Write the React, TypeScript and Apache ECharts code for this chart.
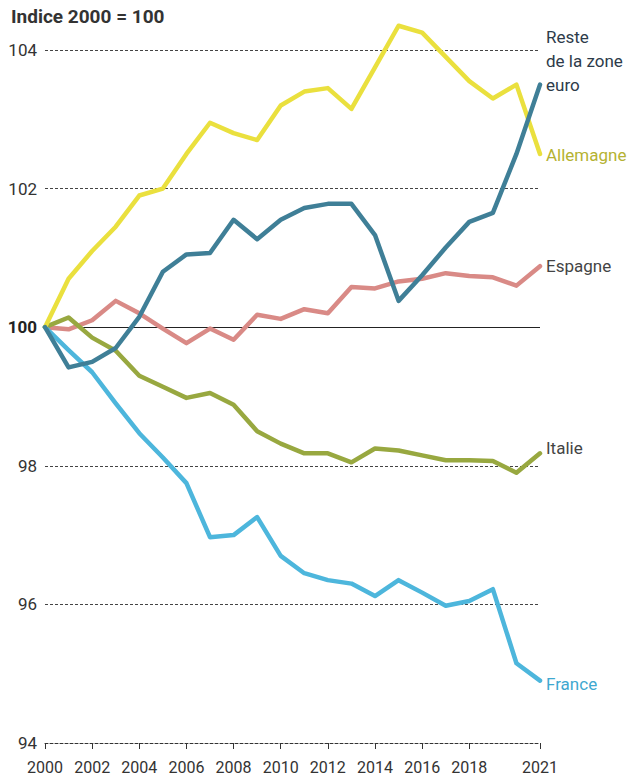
import React, { useEffect, useRef } from 'react';
import * as echarts from 'echarts';

const years = ['2000','2001','2002','2003','2004','2005','2006','2007','2008','2009','2010','2011','2012','2013','2014','2015','2016','2017','2018','2019','2020','2021'];
const labeledYearIdx = [0, 2, 4, 6, 8, 10, 12, 14, 16, 18, 21];

const allemagne = [100, 100.7, 101.1, 101.45, 101.9, 102.0, 102.5, 102.95, 102.8, 102.7, 103.2, 103.4, 103.45, 103.15, 103.75, 104.35, 104.25, 103.9, 103.55, 103.3, 103.5, 102.5];
const reste = [100, 99.42, 99.5, 99.7, 100.15, 100.8, 101.05, 101.07, 101.55, 101.27, 101.55, 101.72, 101.78, 101.78, 101.33, 100.38, 100.75, 101.15, 101.52, 101.65, 102.5, 103.5];
const espagne = [100, 99.97, 100.1, 100.38, 100.2, 99.98, 99.77, 99.98, 99.82, 100.18, 100.12, 100.26, 100.2, 100.58, 100.56, 100.66, 100.7, 100.78, 100.74, 100.72, 100.6, 100.88];
const italie = [100, 100.14, 99.85, 99.66, 99.3, 99.14, 98.98, 99.05, 98.88, 98.5, 98.32, 98.18, 98.18, 98.05, 98.25, 98.22, 98.15, 98.08, 98.08, 98.07, 97.9, 98.18];
const france = [100, 99.67, 99.35, 98.9, 98.47, 98.12, 97.75, 96.97, 97.0, 97.26, 96.7, 96.45, 96.35, 96.3, 96.12, 96.35, 96.17, 95.98, 96.05, 96.22, 95.15, 94.9];

const FONT = "Roboto, 'Noto Sans', sans-serif";

export default function App() {
  const ref = useRef<HTMLDivElement>(null);
  useEffect(() => {
    document.body.style.margin = '0';
    const chart = echarts.init(ref.current!, null, { renderer: 'svg' });
    const mk = (name: string, data: number[], color: string, labelColor: string, label: any, z = 2) => ({
      type: 'line',
      name,
      data,
      z,
      symbol: 'none',
      clip: false,
      lineStyle: { color, width: 4.5, join: 'round', cap: 'round' },
      itemStyle: { color },
      endLabel: {
        show: true,
        formatter: name,
        color: labelColor,
        fontFamily: FONT,
        fontSize: 17,
        distance: 6,
        ...label,
      },
    });
    chart.setOption({
      animation: false,
      backgroundColor: '#ffffff',
      textStyle: { fontFamily: FONT },
      grid: { left: 45, right: 95, top: 50, bottom: 37 },
      graphic: [
        {
          type: 'text',
          left: 11,
          top: 7,
          style: { text: 'Indice 2000 = 100', fill: '#333', font: `bold 19px ${FONT}` },
        },
      ],
      xAxis: {
        type: 'category',
        data: years,
        boundaryGap: false,
        axisLine: { lineStyle: { color: '#333', type: [3, 2], width: 1 } },
        axisTick: {
          show: true,
          length: 6,
          interval: (i: number) => labeledYearIdx.includes(i),
          lineStyle: { color: '#333', width: 1 },
        },
        axisLabel: {
          interval: (i: number) => labeledYearIdx.includes(i),
          color: '#333',
          fontFamily: FONT,
          fontSize: 16,
          margin: 16,
        },
        splitLine: { show: false },
      },
      yAxis: {
        type: 'value',
        min: 94,
        max: 104,
        interval: 2,
        axisLine: { show: false },
        axisTick: { show: false },
        axisLabel: {
          margin: 8,
          formatter: (v: number) => (v === 100 ? `{b|${v}}` : `{n|${v}}`),
          rich: {
            n: { color: '#333', fontFamily: FONT, fontSize: 17 },
            b: { color: '#222', fontFamily: FONT, fontSize: 17, fontWeight: 'bold' },
          },
        },
        splitLine: { show: true, lineStyle: { color: '#444', type: [3, 2], width: 1 } },
      },
      series: [
        {
          ...mk('Espagne', espagne, '#d98a86', '#444', {}),
          markLine: {
            silent: true,
            symbol: 'none',
            label: { show: false },
            lineStyle: { color: '#222', type: 'solid', width: 1.2 },
            data: [{ yAxis: 100 }],
            z: 1,
          },
        },
        mk('Italie', italie, '#98a840', '#444', { offset: [0, -5] }),
        mk('France', france, '#4db6dc', '#3fa8d0', { offset: [0, 3] }),
        mk('Allemagne', allemagne, '#eae03e', '#b5b232', { offset: [0, 1] }),
        mk('Reste de la zone euro', reste, '#3f7f97', '#2d3b4a', {
          formatter: 'Reste\nde la zone\neuro',
          verticalAlign: 'bottom',
          lineHeight: 24,
          offset: [0, 12],
        }, 3),
      ],
    });
    return () => chart.dispose();
  }, []);
  return <div ref={ref} style={{ width: 635, height: 780 }} />;
}
